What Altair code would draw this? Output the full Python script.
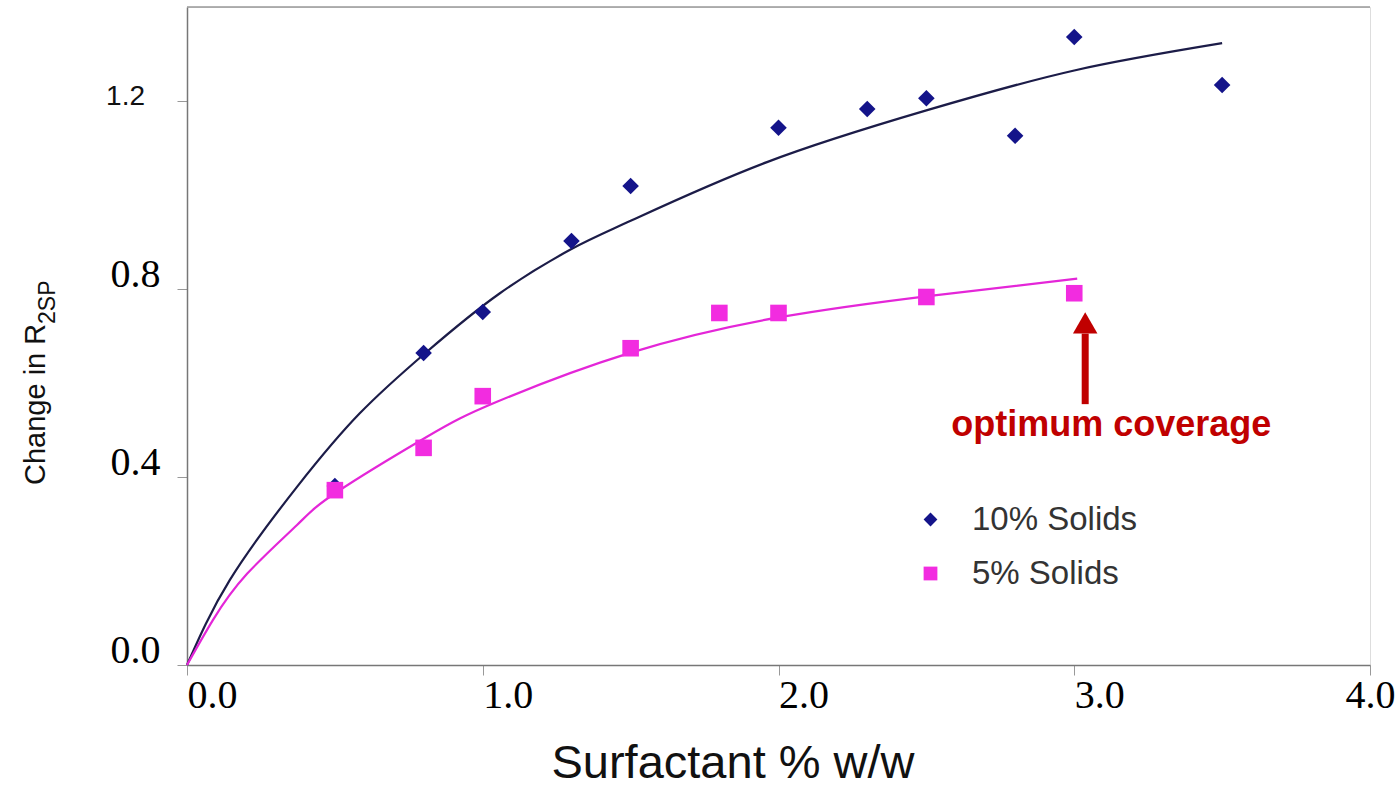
import altair as alt
import pandas as pd

# ---- data ----
series_names = ["10% Solids", "5% Solids"]

x10 = [0.5, 0.8, 1.0, 1.3, 1.5, 2.0, 2.3, 2.5, 2.8, 3.0, 3.5]
y10 = [0.381, 0.664, 0.751, 0.902, 1.019, 1.143, 1.183, 1.206, 1.126, 1.336, 1.234]

x5 = [0.5, 0.8, 1.0, 1.5, 1.8, 2.0, 2.5, 3.0]
y5 = [0.372, 0.462, 0.572, 0.674, 0.749, 0.749, 0.783, 0.791]

# fitted curves
fit10_x = [0, 0.145, 0.372, 0.585, 0.81, 1.058, 1.3, 1.5, 1.961, 2.5, 3.0, 3.5]
fit10_y = [0, 0.181, 0.379, 0.536, 0.666, 0.791, 0.885, 0.945, 1.070, 1.180, 1.265, 1.323]
fit5_x = [0, 0.088, 0.203, 0.372, 0.507, 0.81, 1.048, 1.498, 2.005, 2.52, 3.01]
fit5_y = [0, 0.096, 0.194, 0.298, 0.368, 0.485, 0.560, 0.664, 0.740, 0.786, 0.822]

x_ticks = [0, 1, 2, 3, 4]
y_ticks = [0, 0.4, 0.8, 1.2]
small_label_val = [1.2]
small_label_txt = ["1.2"]

# annotation
arrow_x = [3.037]
arrow_y0 = [0.555]
arrow_y1 = [0.705]
arrow_head_y = [0.728]
note_x = [3.125]
note_y = [0.488]
note_text = ["optimum coverage"]

NAVY = "#14148a"
MAGENTA = "#f22ce0"

pts = pd.DataFrame({
    "x": x10 + x5,
    "y": y10 + y5,
    "series": [series_names[0]] * len(x10) + [series_names[1]] * len(x5),
})
f10 = pd.DataFrame({"x": fit10_x, "y": fit10_y})
f5 = pd.DataFrame({"x": fit5_x, "y": fit5_y})
arrow = pd.DataFrame({"x": arrow_x, "y0": arrow_y0, "y1": arrow_y1, "yh": arrow_head_y})
note = pd.DataFrame({"x": note_x, "y": note_y, "t": note_text})
small_lab = pd.DataFrame({"y": small_label_val, "t": small_label_txt})

xscale = alt.Scale(domain=[0, 4], nice=False)
yscale = alt.Scale(domain=[0, 1.4], nice=False)

xaxis = alt.Axis(
    values=x_ticks, format=".1f", title=None, grid=False,
    labelFont="Liberation Serif", labelFontSize=40, labelColor="#000",
    labelAlign={"condition": {"test": "datum.value >= 4", "value": "center"}, "value": "left"},
    labelBaseline="top", labelPadding=0,
    tickSize=10, tickColor="#999", domainColor="#777", domainWidth=1.5,
)
yaxis = alt.Axis(
    values=y_ticks, format=".1f", title=None, grid=False,
    labelExpr="datum.value > 1 ? '' : datum.label",
    labelFont="Liberation Serif", labelFontSize=40,
    labelColor="#000", labelBaseline="alphabetic", labelPadding=17, labelOffset=-3,
    tickSize=10, tickColor="#999", domainColor="#777", domainWidth=1.5,
)

legend = alt.Legend(
    title=None, orient="none", legendX=727, legendY=496,
    labelFont="Liberation Sans", labelFontSize=33, labelColor="#333",
    labelOffset=25, rowPadding=20, symbolSize=190, padding=0,
    symbolStrokeWidth=0, labelLimit=400,
)

line10 = alt.Chart(f10).mark_line(color="#1c1c48", strokeWidth=2.2, interpolate="natural").encode(
    x=alt.X("x:Q", scale=xscale, axis=xaxis),
    y=alt.Y("y:Q", scale=yscale, axis=yaxis),
)
line5 = alt.Chart(f5).mark_line(color="#e426d8", strokeWidth=2.2, interpolate="natural").encode(
    x=alt.X("x:Q", scale=xscale),
    y=alt.Y("y:Q", scale=yscale),
)
points = alt.Chart(pts).mark_point(filled=True, opacity=1, size=275).encode(
    x=alt.X("x:Q", scale=xscale),
    y=alt.Y("y:Q", scale=yscale),
    color=alt.Color("series:N", scale=alt.Scale(domain=series_names, range=[NAVY, MAGENTA]), legend=legend),
    shape=alt.Shape("series:N", scale=alt.Scale(domain=series_names, range=["diamond", "square"]), legend=legend),
)

top_line = alt.Chart(pd.DataFrame({"y": [1.4]})).mark_rule(color="#999", strokeWidth=1.5).encode(
    y=alt.Y("y:Q", scale=yscale)
)

small_label = alt.Chart(small_lab).mark_text(
    font="Liberation Sans", fontSize=28, color="#111", align="right", baseline="alphabetic", dy=4
).encode(x=alt.value(-42), y=alt.Y("y:Q", scale=yscale), text="t:N")

shaft = alt.Chart(arrow).mark_rule(color="#c00000", strokeWidth=7).encode(
    x=alt.X("x:Q", scale=xscale),
    y=alt.Y("y0:Q", scale=yscale),
    y2="y1:Q",
)
head = alt.Chart(arrow).mark_point(shape="triangle-up", filled=True, opacity=1, color="#c00000", size=600).encode(
    x=alt.X("x:Q", scale=xscale),
    y=alt.Y("yh:Q", scale=yscale),
)
note_mark = alt.Chart(note).mark_text(
    font="Liberation Sans", fontWeight="bold", fontSize=36, color="#c00000",
    align="center", baseline="alphabetic",
).encode(
    x=alt.X("x:Q", scale=xscale),
    y=alt.Y("y:Q", scale=yscale),
    text="t:N",
)

title_df = pd.DataFrame({"t": ["Change in R"], "s": ["2SP"], "xt": ["Surfactant % w/w"]})
ytitle = alt.Chart(title_df).mark_text(
    font="Liberation Sans", fontSize=29, color="#111", angle=270, align="left", baseline="alphabetic"
).encode(x=alt.value(-142), y=alt.value(478), text="t:N")
ysub = alt.Chart(title_df).mark_text(
    font="Liberation Sans", fontSize=23, color="#111", angle=270, align="left", baseline="alphabetic"
).encode(x=alt.value(-132), y=alt.value(317), text="s:N")
xtitle = alt.Chart(title_df).mark_text(
    font="Liberation Sans", fontSize=47, color="#111", align="center", baseline="alphabetic"
).encode(x=alt.value(546), y=alt.value(771), text="xt:N")

chart = alt.layer(
    top_line, line10, line5, points, small_label, shaft, head, note_mark, ytitle, ysub, xtitle
).properties(
    width=1183, height=658,
    autosize=alt.AutoSizeParams(type="none"),
    padding={"left": 187, "top": 7, "right": 28, "bottom": 123},
).configure_view(stroke=None).configure(background="white")

chart.save("out.html", embed_options={"renderer": "svg", "actions": False})
